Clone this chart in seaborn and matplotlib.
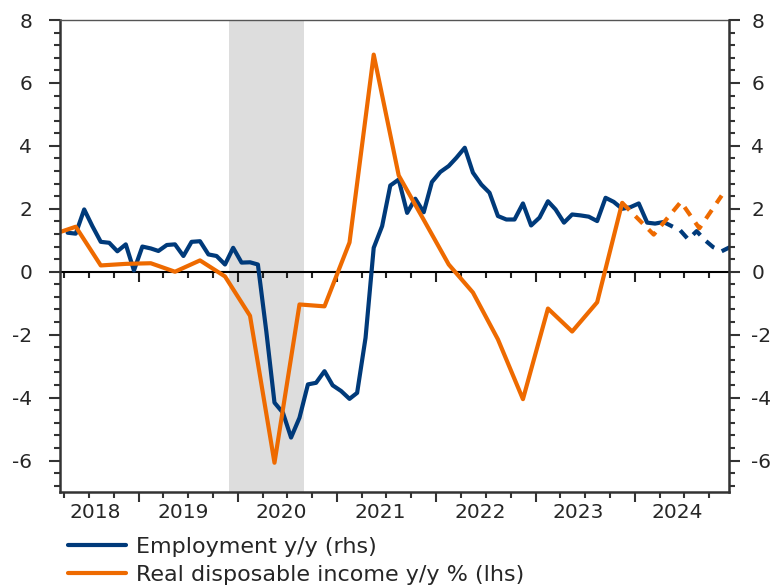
import pandas as pd
import numpy as np
import matplotlib
matplotlib.use("Agg")
import matplotlib.pyplot as plt
import matplotlib.dates as mdates
import seaborn as sns

# employment y/y, monthly from Mar 2018 (rhs)
emp_start = "2018-03-15"
emp_actual = [1.24, 1.21, 1.98, 1.45, 0.95, 0.92, 0.65, 0.87, 0.04, 0.80,
              0.74, 0.66, 0.85, 0.87, 0.50, 0.95, 0.97, 0.55, 0.50, 0.23,
              0.76, 0.29, 0.30, 0.23, -1.90, -4.16, -4.48, -5.27, -4.64, -3.58,
              -3.53, -3.16, -3.61, -3.79, -4.04, -3.85, -2.10, 0.76, 1.45, 2.74,
              2.93, 1.87, 2.32, 1.89, 2.85, 3.17, 3.36, 3.62, 3.94, 3.15,
              2.77, 2.51, 1.77, 1.66, 1.66, 2.17, 1.47, 1.72, 2.24, 1.98,
              1.56, 1.82, 1.79, 1.75, 1.61, 2.35, 2.22, 2.00, 2.05, 2.17,
              1.56, 1.53, 1.58]
emp_forecast = [1.58, 1.45, 1.32, 1.03, 1.29, 1.00, 0.78, 0.65, 0.78]

# real disposable income y/y %, quarterly (lhs)
rdi_dates = ["2018-02-15", "2018-05-15", "2018-08-15", "2018-11-15",
             "2019-02-15", "2019-05-15", "2019-08-15", "2019-11-15",
             "2020-02-15", "2020-05-15", "2020-08-15", "2020-11-15",
             "2021-02-15", "2021-05-15", "2021-08-15", "2021-11-15",
             "2022-02-15", "2022-05-15", "2022-08-15", "2022-11-15",
             "2023-02-15", "2023-05-15", "2023-08-15", "2023-11-15"]
rdi_actual = [1.17, 1.43, 0.20, 0.25, 0.27, 0.00, 0.36, -0.15,
              -1.40, -6.07, -1.04, -1.10, 0.93, 6.90, 3.06, 1.65,
              0.23, -0.66, -2.15, -4.05, -1.17, -1.90, -0.97, 2.19]
rdi_fc_dates = ["2023-11-15", "2024-03-10", "2024-06-18", "2024-08-25", "2024-11-15"]
rdi_forecast = [2.19, 1.18, 2.22, 1.38, 2.42]

recession = ["2019-12-01", "2020-09-01"]
year_labels = ["2018", "2019", "2020", "2021", "2022", "2023", "2024"]
label_dates = ["2018-07-24", "2019-06-14", "2020-06-10", "2021-06-08",
               "2022-06-12", "2023-06-08", "2024-06-06"]

blue = "#003A7A"
orange = "#EE6A00"

emp = pd.DataFrame({"date": pd.date_range(emp_start, periods=len(emp_actual), freq="MS") + pd.Timedelta(days=14),
                    "val": emp_actual})
emp_fc = pd.DataFrame({"date": pd.date_range(emp.date.iloc[-1] - pd.Timedelta(days=14), periods=len(emp_forecast), freq="MS") + pd.Timedelta(days=14),
                       "val": emp_forecast})
rdi = pd.DataFrame({"date": pd.to_datetime(rdi_dates), "val": rdi_actual})
rdi_fc = pd.DataFrame({"date": pd.to_datetime(rdi_fc_dates), "val": rdi_forecast})

sns.set_style("ticks")
plt.rcParams["font.family"] = ["DejaVu Sans"]
plt.rcParams["axes.unicode_minus"] = False

fig = plt.figure(figsize=(7.71, 5.88), dpi=100)
ax = fig.add_axes([60/771, 1-492/588, 669/771, 472/588])

ax.axvspan(pd.Timestamp(recession[0]), pd.Timestamp(recession[1]), color="#DDDDDD", lw=0, zorder=0)

sns.lineplot(data=emp, x="date", y="val", ax=ax, color=blue, lw=3, label="Employment y/y (rhs)", legend=False)
sns.lineplot(data=emp_fc, x="date", y="val", ax=ax, color=blue, lw=3, ls=(0, (2.5, 2)), legend=False)
sns.lineplot(data=rdi, x="date", y="val", ax=ax, color=orange, lw=3, label="Real disposable income y/y % (lhs)", legend=False)
sns.lineplot(data=rdi_fc, x="date", y="val", ax=ax, color=orange, lw=3, ls=(0, (2.5, 2)), legend=False)

ax.set_xlim(pd.Timestamp("2018-03-18"), pd.Timestamp("2024-12-12"))
ax.set_ylim(-7, 8)
ax.set_xlabel("")
ax.set_ylabel("")
ax.set_yticks(np.arange(-6, 9, 2))
ax.yaxis.set_minor_locator(matplotlib.ticker.MultipleLocator(0.4))
ax.xaxis.set_major_locator(mdates.YearLocator())
ax.xaxis.set_minor_locator(mdates.MonthLocator(bymonth=[4, 7, 10]))
ax.tick_params(axis="x", which="major", length=7, width=1.5, labelbottom=False, color="#333333")
ax.tick_params(axis="x", which="minor", length=4, width=1.5, color="#333333")
ax.tick_params(axis="y", which="major", length=8, width=1.5, labelsize=14.5, pad=12, color="#333333")
ax.tick_params(axis="y", which="minor", length=4, width=1.5, color="#333333")
for s in ["left", "bottom"]:
    ax.spines[s].set_color("#333333")
    ax.spines[s].set_linewidth(1.8)
ax.spines["top"].set_color("#555555")
ax.spines["top"].set_linewidth(1)
ax.spines["right"].set_visible(True)

for lab, d in zip(year_labels, label_dates):
    ax.text(pd.Timestamp(d), -0.024, lab, transform=ax.get_xaxis_transform(),
            ha="center", va="top", fontsize=14.5)

# zero line with its own ticks
zero = ax.secondary_xaxis(7/15)
zero.xaxis.set_major_locator(mdates.YearLocator())
zero.xaxis.set_minor_locator(mdates.MonthLocator(bymonth=[4, 7, 10]))
zero.tick_params(which="major", length=7, width=1.5, labelbottom=False, color="#222222")
zero.tick_params(which="minor", length=4, width=1.5, color="#222222")
zero.spines["bottom"].set_color("black")
zero.spines["bottom"].set_linewidth(1.5)

ax2 = ax.twinx()
ax2.set_ylim(-7, 8)
ax2.set_yticks(np.arange(-6, 9, 2))
ax2.yaxis.set_minor_locator(matplotlib.ticker.MultipleLocator(0.4))
ax2.tick_params(axis="y", which="major", length=8, width=1.5, labelsize=14.5, pad=8, color="#333333")
ax2.tick_params(axis="y", which="minor", length=4, width=1.5, color="#333333")
ax2.spines["right"].set_color("#333333")
ax2.spines["right"].set_linewidth(1.8)
for s in ["left", "top", "bottom"]:
    ax2.spines[s].set_visible(False)

handles, labels = ax.get_legend_handles_labels()
fig.legend(handles, labels, loc="upper left", bbox_to_anchor=(68/771, 1-537/588),
           frameon=False, borderpad=0, borderaxespad=0, handlelength=2.6,
           handletextpad=0.45, labelspacing=0.35, fontsize=16)

fig.savefig("out.png", dpi=100)
